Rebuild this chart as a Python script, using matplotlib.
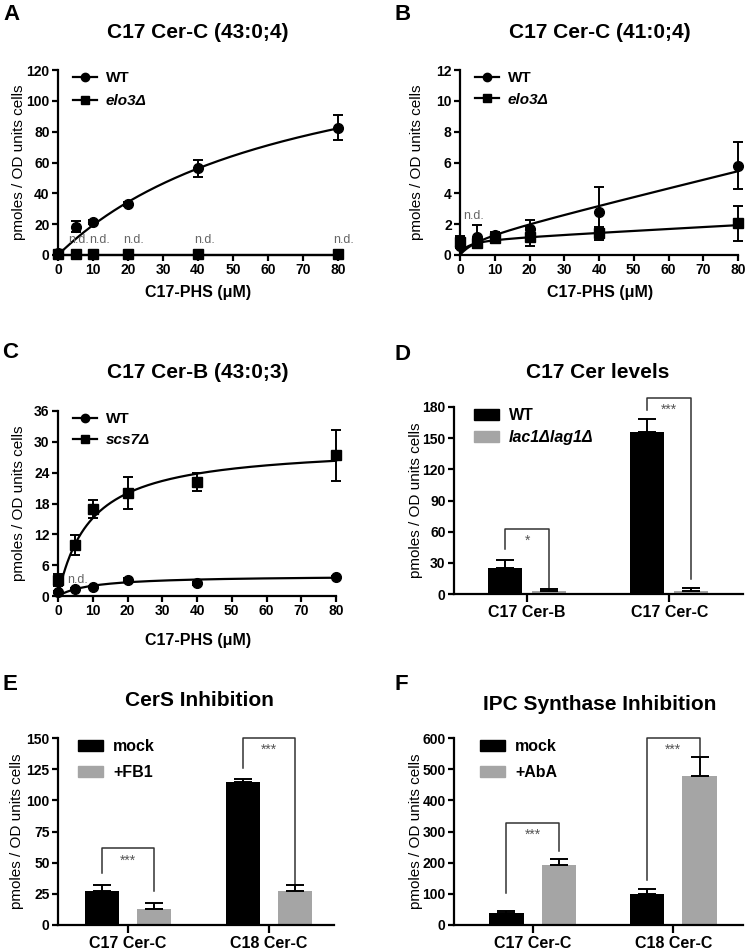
import numpy as np
import matplotlib.pyplot as plt
from matplotlib.lines import Line2D
from matplotlib.patches import Patch

plt.rcParams['font.family'] = ['Liberation Sans', 'DejaVu Sans']
plt.rcParams['axes.linewidth'] = 1.6

# ---- data ----
conc = [0, 5, 10, 20, 40, 80]

# A: C17 Cer-C (43:0;4)
a_wt = [1.0, 18.4, 21.6, 33.1, 56.2, 82.6]
a_wt_err = [0.8, 3.5, 1.2, 1.2, 5.4, 8.3]
a_elo3 = [0.5, 0.5, 0.5, 0.5, 0.5, 0.5]
a_nd_x = [6.0, 12.0, 21.7, 41.8, 81.6]   # "n.d." label spots next to elo3 points

# B: C17 Cer-C (41:0;4)
b_wt = [0.6, 1.2, 1.3, 1.7, 2.8, 5.8]
b_wt_err = [0.6, 0.75, 0.2, 0.6, 1.6, 1.55]
b_elo3 = [0.85, 0.8, 1.1, 1.2, 1.4, 2.05]
b_elo3_err = [0.4, 0.2, 0.15, 0.6, 0.4, 1.15]
b_nd_x = [3.8]

# C: C17 Cer-B (43:0;3)
c_wt = [0.8, 1.3, 1.8, 3.2, 2.5, 3.75]
c_wt_err = [0.2, 0.2, 0.2, 0.3, 0.3, 0.2]
c_scs7 = [3.1, 9.9, 16.9, 20.1, 22.2, 27.4]
c_scs7_err = [1.2, 1.9, 1.8, 3.1, 1.7, 5.0]
c_nd_x = [5.6]

# fitted curves (Vmax, Km, nonspecific slope) as read from the plotted fits
a_fit_wt = (153.0, 69.0, 0.0)
b_fit_wt = (1.1, 5.0, 0.055)
b_fit_elo3 = (1.0, 2.0, 0.012)
c_fit_wt = (4.0, 10.0, 0.0)
c_fit_scs7 = (29.4, 9.4, 0.0)

# D: C17 Cer levels
d_groups = ['C17 Cer-B', 'C17 Cer-C']
d_wt = [25, 155.6]
d_wt_err = [8, 13]
d_lac = [3.2, 3.2]
d_lac_err = [1.6, 2.6]
d_stars = ['*', '***']

# E: CerS Inhibition
e_groups = ['C17 Cer-C', 'C18 Cer-C']
e_mock = [27, 114.7]
e_mock_err = [5.4, 2.7]
e_fb1 = [13.1, 27]
e_fb1_err = [4.5, 5.4]
e_stars = ['***', '***']

# F: IPC Synthase Inhibition
f_groups = ['C17 Cer-C', 'C18 Cer-C']
f_mock = [37.5, 99.6]
f_mock_err = [7.5, 15]
f_aba = [194, 479]
f_aba_err = [18, 60]
f_stars = ['***', '***']

W, H = 747, 950
fig = plt.figure(figsize=(W / 100, H / 100), dpi=100)
GRAY = '#a5a5a5'
YLAB = 'pmoles / OD units cells'


def add_ax(l, t, r, b):
    ax = fig.add_axes([l / W, 1 - b / H, (r - l) / W, (b - t) / H])
    ax.px = (r - l, b - t)
    return ax


def ftext(x, y, s, **kw):
    fig.text(x / W, 1 - y / H, s, **kw)


def style(ax):
    for sp in ['top', 'right']:
        ax.spines[sp].set_visible(False)
    ax.tick_params(direction='out', length=4, width=1.6, labelsize=10, pad=2)
    for lab in ax.get_xticklabels() + ax.get_yticklabels():
        lab.set_fontweight('bold')


def legend(ax, handles, names, dx, dy, size, hl, hh, pad, spacing):
    # dx, dy: pixel offset of the legend box from the axes top-left corner
    w, h = ax.px
    return ax.legend(handles, names, loc='upper left',
                     bbox_to_anchor=(dx / w, 1 + dy / h), frameon=False,
                     borderpad=0, borderaxespad=0, handlelength=hl,
                     handleheight=hh, handletextpad=pad, labelspacing=spacing,
                     prop={'weight': 'bold', 'size': size})


def fitcurve(p, x):
    return p[0] * x / (p[1] + x) + p[2] * x


def line_panel(ax, series, ymax, ystep, nd_x, nd_y, names, spacing):
    xs = np.linspace(0, 80, 300)
    handles = []
    for y, err, fit, mk in series:
        ax.plot(xs, fitcurve(fit, xs), color='black', lw=1.6, clip_on=False)
        if err is not None:
            ax.errorbar(conc, y, yerr=err, fmt='none', ecolor='black',
                        elinewidth=1.4, capsize=3.3, capthick=1.4, clip_on=False)
        ax.plot(conc, y, ls='none', marker=mk, ms=7 if mk == 'o' else 6.5,
                color='black', clip_on=False, zorder=5)
        handles.append(Line2D([], [], color='black', lw=1.6, marker=mk, ms=6))
    for x in nd_x:
        ax.text(x, nd_y, 'n.d.', color='#666666', fontsize=9,
                ha='center', va='center')
    ax.set_xlim(0, 80)
    ax.set_ylim(0, ymax)
    ax.set_xticks(range(0, 81, 10))
    ax.set_yticks(np.arange(0, ymax + 0.01, ystep))
    style(ax)
    leg = legend(ax, handles, names, 15, -1, 11, 1.6, 0.7, 0.55, spacing)
    leg.get_texts()[1].set_fontstyle('italic')


def bar_panel(ax, groups, a, aerr, b, berr, off, width, xlim, ymax, ystep,
              brackets, stars, names, dx, spacing):
    xg = np.arange(len(groups))
    ax.bar(xg - off, a, width, color='black', zorder=2)
    ax.bar(xg + off, b, width, color=GRAY, zorder=2)
    ax.errorbar(xg - off, a, yerr=[np.zeros(len(a)), aerr], fmt='none',
                ecolor='black', elinewidth=1.4, capsize=6.5, capthick=1.4, zorder=3)
    ax.errorbar(xg + off, b, yerr=[np.zeros(len(b)), berr], fmt='none',
                ecolor='black', elinewidth=1.4, capsize=6.5, capthick=1.4, zorder=3)
    for i, ((top, lft, rgt), s) in enumerate(zip(brackets, stars)):
        ax.plot([i - off, i - off, i + off, i + off], [lft, top, top, rgt],
                color='#333333', lw=1.1, clip_on=False)
        ax.text(i, top - ymax * 0.065, s, color='#555555', fontsize=10,
                ha='center', va='center')
    ax.set_xlim(*xlim)
    ax.set_ylim(0, ymax)
    ax.set_xticks(xg)
    ax.set_xticklabels(groups)
    ax.set_yticks(np.arange(0, ymax + 0.01, ystep))
    style(ax)
    ax.tick_params(axis='x', labelsize=11.5, length=6)
    for lab in ax.get_xticklabels():
        lab.set_fontweight('bold')
    handles = [Patch(color='black'), Patch(color=GRAY)]
    return legend(ax, handles, names, dx, -1, 11.5, 1.55, 0.75, 0.65, spacing)


# ---- A ----
axA = add_ax(58, 70, 338, 255)
line_panel(axA, [(a_wt, a_wt_err, a_fit_wt, 'o'), (a_elo3, None, (0, 1, 0), 's')],
           120, 20, a_nd_x, 9.7, ['WT', 'elo3Δ'], 0.6)

# ---- B ----
axB = add_ax(460, 70, 738, 255)
line_panel(axB, [(b_wt, b_wt_err, b_fit_wt, 'o'), (b_elo3, b_elo3_err, b_fit_elo3, 's')],
           12, 2, b_nd_x, 2.5, ['WT', 'elo3Δ'], 0.5)

# ---- C ----
axC = add_ax(58, 411, 336, 596)
line_panel(axC, [(c_wt, c_wt_err, c_fit_wt, 'o'), (c_scs7, c_scs7_err, c_fit_scs7, 's')],
           36, 6, c_nd_x, 3.2, ['WT', 'scs7Δ'], 0.45)

# ---- D ----
axD = add_ax(454, 407, 743, 594)
legD = bar_panel(axD, d_groups, d_wt, d_wt_err, d_lac, d_lac_err, 0.155, 0.24,
                 (-0.515, 1.518), 180, 30, [(63, 43, 6), (189, 177, 14)], d_stars,
                 ['WT', 'lac1Δlag1Δ'], 20, 0.45)
legD.get_texts()[1].set_fontstyle('italic')

# ---- E ----
axE = add_ax(58, 738, 334, 925)
bar_panel(axE, e_groups, e_mock, e_mock_err, e_fb1, e_fb1_err, 0.186, 0.243,
          (-0.496, 1.461), 150, 25, [(61.5, 41.7, 27), (150, 126, 32)], e_stars,
          ['mock', '+FB1'], 20, 0.7)

# ---- F ----
axF = add_ax(454, 738, 743, 925)
bar_panel(axF, f_groups, f_mock, f_mock_err, f_aba, f_aba_err, 0.186, 0.246,
          (-0.559, 1.495), 600, 100, [(327, 102, 236), (600, 145, 541)], f_stars,
          ['mock', '+AbA'], 26, 0.7)

# ---- titles, axis labels, panel letters ----
titles = [(198, 32, 'C17 Cer-C (43:0;4)'), (600, 32, 'C17 Cer-C (41:0;4)'),
          (198, 372, 'C17 Cer-B (43:0;3)'), (598, 373, 'C17 Cer levels'),
          (199, 700, 'CerS Inhibition'), (600, 705, 'IPC Synthase Inhibition')]
for x, y, s in titles:
    ftext(x, y, s, fontsize=15, fontweight='bold', ha='center', va='center')

for x, y in [(198, 293), (600, 293), (198, 641)]:
    ftext(x, y, 'C17-PHS (μM)', fontsize=11.5, fontweight='bold', ha='center', va='center')

for x, y in [(19, 162), (417, 162), (19, 503), (416, 500), (17, 831), (416, 831)]:
    ftext(x, y, YLAB, fontsize=11, rotation=90, ha='center', va='center')

for x, y, s in [(3, 14, 'A'), (395, 14, 'B'), (2, 353, 'C'), (395, 355, 'D'),
                (2, 684, 'E'), (395, 685, 'F')]:
    ftext(x, y, s, fontsize=16, fontweight='bold', ha='left', va='center')

fig.savefig('out.png', dpi=100)
